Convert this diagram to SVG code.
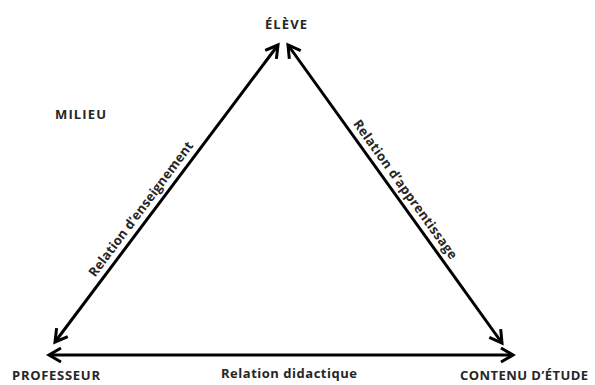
<svg xmlns="http://www.w3.org/2000/svg" width="595" height="385" viewBox="0 0 595 385">
<style>
.lbl{font-family:"Open Sans","Liberation Sans",sans-serif;font-weight:bold;font-size:13px;fill:#262626}
.edge{stroke:#000;stroke-width:3;fill:none}
</style>
<defs>
<marker id="arr" markerUnits="userSpaceOnUse" viewBox="0 0 16 16" markerWidth="16" markerHeight="16" refX="13" refY="8" orient="auto-start-reverse" overflow="visible">
<path d="M1,1 L13,8 L1,15" fill="none" stroke="#000" stroke-width="3"/>
</marker>
</defs>
<rect width="595" height="385" fill="#fff"/>
<g id="connectors">
<line class="edge" x1="278" y1="45" x2="55" y2="342" marker-start="url(#arr)" marker-end="url(#arr)"/>
<line class="edge" x1="288" y1="45" x2="502" y2="343" marker-start="url(#arr)" marker-end="url(#arr)"/>
<line class="edge" x1="49" y1="355" x2="513" y2="355" marker-start="url(#arr)" marker-end="url(#arr)"/>
<text class="lbl" transform="translate(150,216) rotate(-53.13)" x="0" y="-7" text-anchor="middle" textLength="165">Relation d’enseignement</text>
<text class="lbl" transform="translate(396,196) rotate(54.3)" x="0" y="-7" text-anchor="middle" textLength="168">Relation d’apprentissage</text>
<text class="lbl" x="221" y="378" textLength="136">Relation didactique</text>
</g>
<g id="eleve"><text class="lbl" x="265" y="29" textLength="42">ÉLÈVE</text></g>
<g id="milieu"><text class="lbl" x="55" y="119" textLength="51">MILIEU</text></g>
<g id="professeur"><text class="lbl" x="12" y="380" textLength="88">PROFESSEUR</text></g>
<g id="contenu"><text class="lbl" x="460" y="380" textLength="128">CONTENU D’ÉTUDE</text></g>
</svg>
